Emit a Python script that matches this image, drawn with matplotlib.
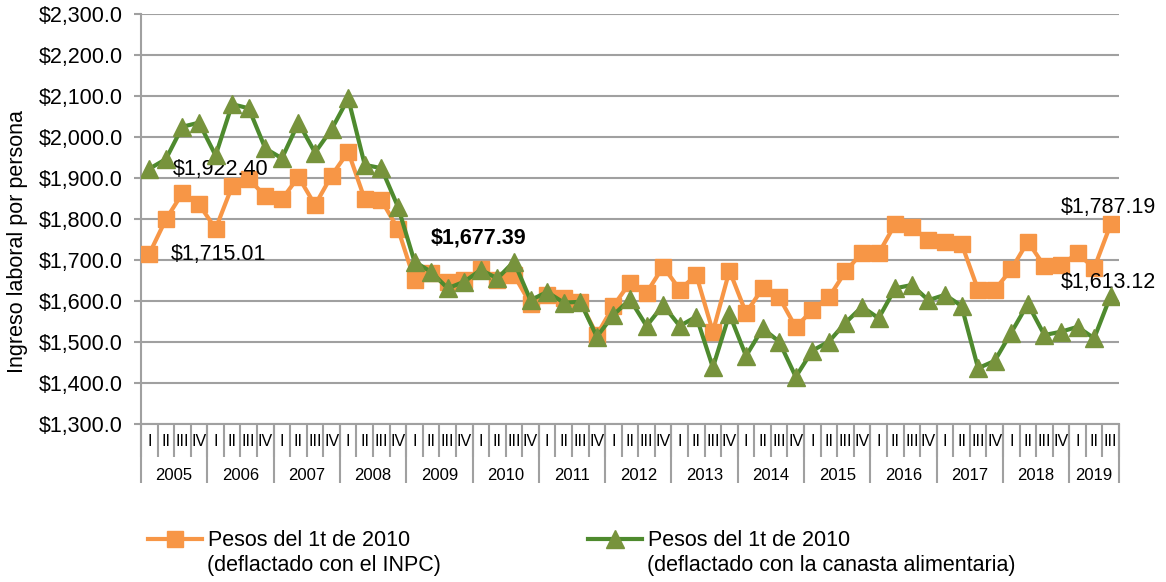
import numpy as np
import matplotlib
matplotlib.use("Agg")
import matplotlib.pyplot as plt
from matplotlib.lines import Line2D

plt.rcParams['font.family'] = ['Liberation Sans', 'DejaVu Sans']

# quarterly data, 2005-I .. 2019-III
years = [str(y) for y in range(2005, 2020)]
quarters = ['I', 'II', 'III', 'IV']
n_quarters = [4] * 14 + [3]

inpc = [1715.01, 1799, 1863, 1836, 1776, 1880, 1897, 1856, 1848, 1903, 1834, 1906,
        1964, 1848, 1846, 1776, 1651, 1668, 1647, 1651, 1677.39, 1651, 1663, 1593,
        1615, 1608, 1598, 1517, 1588, 1645, 1620, 1684, 1628, 1663, 1525, 1674,
        1571, 1631, 1609, 1536, 1578, 1609, 1672, 1718, 1716, 1788, 1780, 1749,
        1744, 1740, 1627, 1627, 1677, 1745, 1685, 1688, 1716, 1680, 1787.19]

canasta = [1922.40, 1946, 2025, 2035, 1955, 2080, 2070, 1972, 1948, 2035, 1962, 2019,
           2094, 1932, 1924, 1830, 1696, 1671, 1631, 1647, 1676, 1655, 1696, 1602,
           1622, 1596, 1598, 1513, 1566, 1604, 1539, 1590, 1539, 1562, 1438, 1568,
           1466, 1533, 1501, 1415, 1479, 1501, 1547, 1586, 1558, 1631, 1639, 1602,
           1615, 1588, 1436, 1454, 1523, 1593, 1517, 1525, 1537, 1509, 1613.12]

labels_inpc = ['Pesos del 1t de 2010', '(deflactado con el INPC)']
labels_canasta = ['Pesos del 1t de 2010', '(deflactado con la canasta alimentaria)']

orange = '#F79646'
green_line = '#4E8A2E'
green_mark = '#77933C'
grey = '#A0A0A0'
fs = 15.5

W, H = 1166, 582
fig = plt.figure(figsize=(W / 100, H / 100), dpi=100)
ax_l, ax_r, ax_t, ax_b = 141, 1119, 14, 424
ax = fig.add_axes([ax_l / W, 1 - ax_b / H, (ax_r - ax_l) / W, (ax_b - ax_t) / H])
axh = ax_b - ax_t

n = len(inpc)
x = np.arange(n) + 0.5
ax.plot(x, inpc, color=orange, lw=3, marker='s', ms=11.5, mfc=orange, mec=orange, zorder=3)
ax.plot(x, canasta, color=green_line, lw=3, marker='^', ms=13, mfc=green_mark, mec=green_mark, zorder=4)

ax.set_xlim(0, n)
ax.set_ylim(1300, 2300)
yt = np.arange(1300, 2301, 100)
ax.set_yticks(yt)
ax.set_yticklabels(['${:,.1f}'.format(v) for v in yt], fontsize=fs)
ax.tick_params(axis='y', length=5, width=1.5, color=grey, pad=8)
ax.yaxis.grid(True, color=grey, lw=1.5)
ax.set_axisbelow(True)
ax.set_ylabel('Ingreso laboral por persona', fontsize=fs)
ax.yaxis.set_label_coords(-(141 - 28) / (ax_r - ax_l), 0.445)

for s in ['top', 'right']:
    ax.spines[s].set_visible(False)
for s in ['left', 'bottom']:
    ax.spines[s].set_color(grey)
    ax.spines[s].set_linewidth(1.5)

# category axis: quarters + years
ax.set_xticks([])
xt = ax.get_xaxis_transform()
ax.vlines(np.arange(n + 1), -33 / axh, 0, color=grey, lw=1.5, transform=xt, clip_on=False)
bounds = np.concatenate([[0], np.cumsum(n_quarters)])
ax.vlines(bounds, -59 / axh, 0, color=grey, lw=1.5, transform=xt, clip_on=False)
i = 0
for y, nq in zip(years, n_quarters):
    for q in quarters[:nq]:
        ax.text(i + 0.5, -17.5 / axh, q, transform=xt, ha='center', va='center', fontsize=11.5)
        i += 1
    ax.text(i - nq / 2, -51 / axh, y, transform=xt, ha='center', va='center', fontsize=12)

# data labels
ax.annotate('$1,922.40', (x[0], canasta[0]), xytext=(71, -1), textcoords='offset pixels',
            ha='center', va='center', fontsize=fs)
ax.annotate('$1,715.01', (x[0], inpc[0]), xytext=(69, -1), textcoords='offset pixels',
            ha='center', va='center', fontsize=fs)
ax.annotate('$1,677.39', (x[20], inpc[20]), xytext=(-2, 31), textcoords='offset pixels',
            ha='center', va='center', fontsize=fs, fontweight='bold')
ax.annotate('$1,787.19', (x[-1], inpc[-1]), xytext=(-2, 17), textcoords='offset pixels',
            ha='center', va='center', fontsize=fs)
ax.annotate('$1,613.12', (x[-1], canasta[-1]), xytext=(-2, 13), textcoords='offset pixels',
            ha='center', va='center', fontsize=fs)

# legend
h1 = Line2D([], [], color=orange, lw=3, marker='s', ms=11.5, mfc=orange, mec=orange)
h2 = Line2D([], [], color=green_line, lw=3, marker='^', ms=13, mfc=green_mark, mec=green_mark)
for h, lab, x0 in [(h1, labels_inpc, 148), (h2, labels_canasta, 588)]:
    fig.legend([h], [lab[0]], loc='center left', bbox_to_anchor=(x0 / W, 1 - 541 / H),
               frameon=False, borderpad=0, borderaxespad=0, handlelength=2.5,
               handletextpad=0.3, fontsize=fs)
    fig.text((x0 + 59) / W, 1 - 566 / H, lab[1], ha='left', va='center', fontsize=fs)

fig.savefig('out.png', dpi=100)
